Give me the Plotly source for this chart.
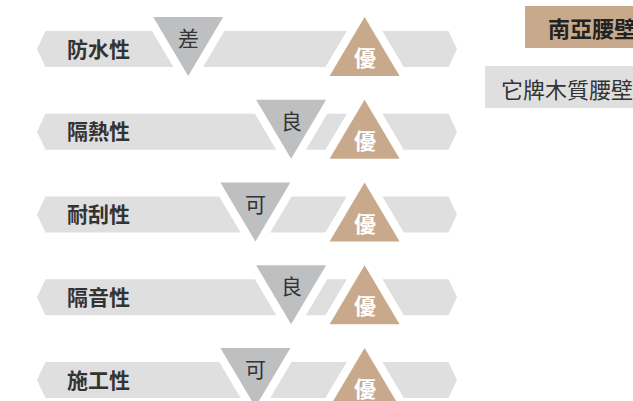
import plotly.graph_objects as go

# ---------------- data ----------------
categories = ["防水性", "隔熱性", "耐刮性", "隔音性", "施工性"]
other_ratings = ["差", "良", "可", "良", "可"]
nanya_ratings = ["優", "優", "優", "優", "優"]
rating_levels = ["差", "可", "良", "優"]
rating_positions = [36, 52, 60.5, 78]          # position of each level on a 0-100 track
legend_labels = ["南亞腰壁板", "它牌木質腰壁板"]

# ---------------- style ----------------
BAR_GREY = "#dfdfdf"
TRI_GREY = "#bebfc1"
TAN = "#c8a98b"
TEXT = "#333333"
FONT = "Noto Sans CJK TC"

W, H = 633, 401
SX, SY = 4.2, 82.75          # pixels per axis unit
X0_PX, Y0_PX = 37, 49        # pixel of track start / first row centre

xr = [-X0_PX / SX, (W - X0_PX) / SX]
yr = [(H - Y0_PX) / SY, -Y0_PX / SY]

half_h = 18 / SY
tip = 8.5 / SX
tw = 35 / SX
t_top = -32 / SY
t_bot = 27 / SY
gap = 9.5 / SX
T0, T1 = 0, 100

pos = dict(zip(rating_levels, rating_positions))


def frac(y, row):
    return (y - (row + t_top)) / (t_bot - t_top)


def inv_left(c, y, row):
    return c - tw + tw * frac(y, row)


def inv_right(c, y, row):
    return c + tw - tw * frac(y, row)


def up_left(c, y, row):
    return c - tw * frac(y, row)


def up_right(c, y, row):
    return c + tw * frac(y, row)


fig = go.Figure()


def poly(pts, color):
    xs = [p[0] for p in pts] + [pts[0][0]]
    ys = [p[1] for p in pts] + [pts[0][1]]
    fig.add_trace(go.Scatter(x=xs, y=ys, mode="lines", fill="toself",
                             fillcolor=color, line=dict(width=0, color=color),
                             hoverinfo="skip", showlegend=False))


annotations = []
for row, (cat, oth, nan) in enumerate(zip(categories, other_ratings, nanya_ratings)):
    cg = pos[oth]
    ct = pos[nan]
    yt = row - half_h
    yb = row + half_h
    # bar pieces
    poly([(T0, row), (T0 + tip, yt), (inv_left(cg, yt, row) - gap, yt),
          (inv_left(cg, yb, row) - gap, yb), (T0 + tip, yb)], BAR_GREY)
    poly([(inv_right(cg, yt, row) + gap, yt), (up_left(ct, yt, row) - gap, yt),
          (up_left(ct, yb, row) - gap, yb), (inv_right(cg, yb, row) + gap, yb)], BAR_GREY)
    poly([(up_right(ct, yt, row) + gap, yt), (T1 - tip, yt), (T1, row),
          (T1 - tip, yb), (up_right(ct, yb, row) + gap, yb)], BAR_GREY)
    # triangles
    poly([(cg - tw, row + t_top), (cg + tw, row + t_top), (cg, row + t_bot)], TRI_GREY)
    poly([(ct, row + t_top), (ct + tw, row + t_bot), (ct - tw, row + t_bot)], TAN)
    # texts
    annotations.append(dict(x=6.6, y=row - 1.5 / SY, xref="x", yref="y", text=f"<b>{cat}</b>",
                            showarrow=False, xanchor="left", yanchor="middle",
                            font=dict(family=FONT, size=21, color=TEXT)))
    annotations.append(dict(x=cg, y=row - 12 / SY, xref="x", yref="y", text=oth,
                            showarrow=False, xanchor="center", yanchor="middle",
                            font=dict(family=FONT, size=21, color=TEXT)))
    annotations.append(dict(x=ct, y=row + 7 / SY, xref="x", yref="y", text=f"<b>{nan}</b>",
                            showarrow=False, xanchor="center", yanchor="middle",
                            font=dict(family=FONT, size=22, color="white")))

# legend boxes
shapes = [
    dict(type="rect", xref="paper", yref="paper", x0=525 / W, x1=1.1,
         y0=1 - 48 / H, y1=1 - 6 / H, fillcolor=TAN, line=dict(width=0), layer="below"),
    dict(type="rect", xref="paper", yref="paper", x0=485 / W, x1=1.1,
         y0=1 - 108 / H, y1=1 - 66 / H, fillcolor=BAR_GREY, line=dict(width=0), layer="below"),
]
annotations.append(dict(x=546 / W, y=1 - 27 / H, xref="paper", yref="paper",
                        text=f"<b>{legend_labels[0]}</b>", showarrow=False,
                        xanchor="left", yanchor="middle",
                        font=dict(family=FONT, size=22, color="#222222")))
annotations.append(dict(x=499 / W, y=1 - 88 / H, xref="paper", yref="paper",
                        text=legend_labels[1], showarrow=False,
                        xanchor="left", yanchor="middle",
                        font=dict(family=FONT, size=22, color=TEXT)))

fig.update_layout(
    width=W, height=H, margin=dict(l=0, r=0, t=0, b=0),
    paper_bgcolor="white", plot_bgcolor="white",
    xaxis=dict(range=xr, visible=False, fixedrange=True),
    yaxis=dict(range=yr, visible=False, fixedrange=True),
    shapes=shapes, annotations=annotations, showlegend=False,
)

fig.write_html("out.html", config={"displayModeBar": False},
               post_script="document.body.style.margin='0px';")
